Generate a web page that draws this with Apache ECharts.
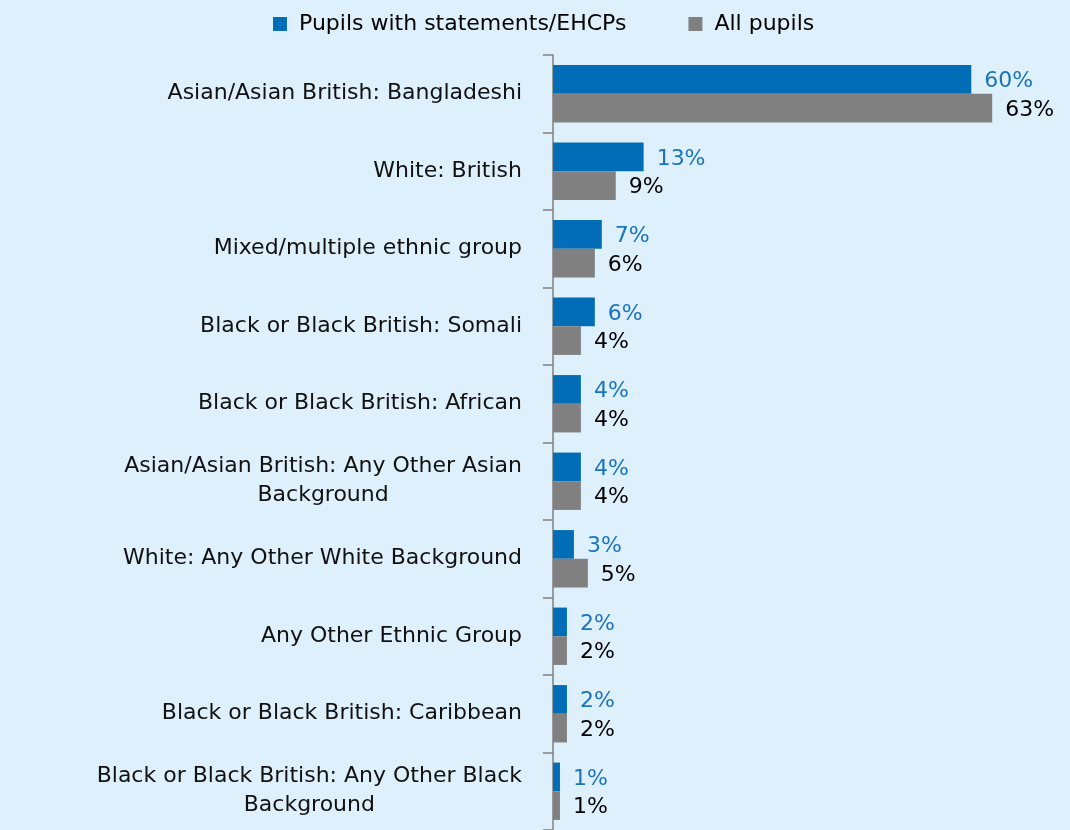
<!DOCTYPE html>
<html>
<head>
<meta charset="utf-8">
<script src="https://cdn.jsdelivr.net/npm/echarts@6/dist/echarts.min.js"></script>
<style>
  html, body { margin: 0; padding: 0; background: #DEF0FC; }
  #chart { width: 1070px; height: 830px; }
</style>
</head>
<body>
<div id="chart"></div>
<script>
const categories = [
  "Asian/Asian British: Bangladeshi",
  "White: British",
  "Mixed/multiple ethnic group",
  "Black or Black British: Somali",
  "Black or Black British: African",
  "Asian/Asian British: Any Other Asian\nBackground",
  "White: Any Other White Background",
  "Any Other Ethnic Group",
  "Black or Black British: Caribbean",
  "Black or Black British: Any Other Black\nBackground"
];
const statementsEHCP = [60, 13, 7, 6, 4, 4, 3, 2, 2, 1];
const allPupils = [63, 9, 6, 4, 4, 4, 5, 2, 2, 1];
const seriesNames = ["Pupils with statements/EHCPs", "All pupils"];

const FONT = "DejaVu Sans";
const FS = 22;
const chart = echarts.init(document.getElementById('chart'), null, { renderer: 'canvas' });
chart.setOption({
  backgroundColor: '#DEF0FC',
  animation: false,
  textStyle: { fontFamily: FONT },
  legend: {
    top: 8,
    left: 268,
    itemWidth: 14,
    itemHeight: 14,
    itemGap: 62,
    icon: 'rect',
    textStyle: { fontFamily: FONT, fontSize: FS, color: '#000', padding: [0, 0, 0, 7] },
    data: seriesNames
  },
  grid: { left: 553, right: 29, top: 55, bottom: 0, containLabel: false },
  xAxis: {
    type: 'value', min: 0, max: 70, show: false,
    splitLine: { show: false }
  },
  yAxis: {
    type: 'category',
    inverse: true,
    data: categories,
    axisLine: { show: true, lineStyle: { color: '#808080', width: 1.5 } },
    axisTick: { show: true, length: 10, lineStyle: { color: '#808080', width: 1.5 } },
    axisLabel: {
      margin: 31,
      fontFamily: FONT,
      fontSize: FS,
      color: '#111',
      formatter: v => v.split('\n').map(l => '{c|' + l + '}').join('\n'),
      rich: { c: { align: 'center', fontFamily: FONT, fontSize: FS, lineHeight: 29, color: '#111' } }
    }
  },
  series: [
    {
      name: seriesNames[0], type: 'bar', data: statementsEHCP,
      barCategoryGap: '26%', barGap: '0%',
      itemStyle: { color: '#006DB6' },
      label: { show: true, position: 'right', distance: 13, offset: [0, 2], formatter: '{c}%',
               fontFamily: FONT, fontSize: FS, color: '#1A74BE' }
    },
    {
      name: seriesNames[1], type: 'bar', data: allPupils,
      barCategoryGap: '26%', barGap: '0%',
      itemStyle: { color: '#808080' },
      label: { show: true, position: 'right', distance: 13, offset: [0, 2], formatter: '{c}%',
               fontFamily: FONT, fontSize: FS, color: '#000' }
    }
  ]
});
</script>
</body>
</html>
